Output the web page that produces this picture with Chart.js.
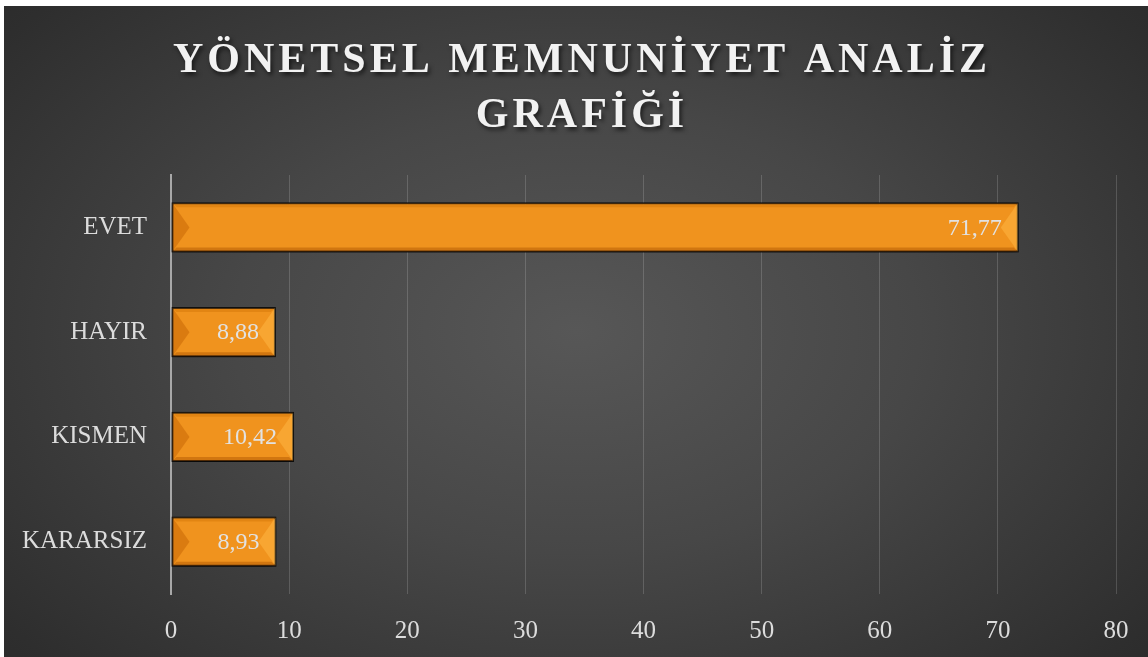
<!DOCTYPE html>
<html>
<head>
<meta charset="utf-8">
<script src="https://cdn.jsdelivr.net/npm/chart.js@4/dist/chart.umd.min.js"></script>
<style>
  html, body { margin: 0; padding: 0; background: #fff; }
  #wrap {
    position: absolute; left: 4px; top: 6px; width: 1144px; height: 651px;
    background: radial-gradient(ellipse 75% 85% at 50% 50%, #575757 0%, #474747 40%, #2e2e2e 85%, #282828 100%);
  }
</style>
</head>
<body>
<div id="wrap"><canvas id="chart" width="1144" height="651"></canvas></div>
<script>
// chart data
const titleLines = ['YÖNETSEL MEMNUNİYET ANALİZ', 'GRAFİĞİ'];
const categories = ['EVET', 'HAYIR', 'KISMEN', 'KARARSIZ'];
const percentValues = [71.77, 8.88, 10.42, 8.93];
const tickValues = [0, 10, 20, 30, 40, 50, 60, 70, 80];

const serif = '"Liberation Serif", "DejaVu Serif", serif';
const ctx = document.getElementById('chart').getContext('2d');

// title with letter spacing, drawn on the canvas
const spacedTitle = {
    id: 'spacedTitle',
    afterDraw(chart) {
        const c = chart.ctx;
        c.save();
        c.font = 'bold 42px ' + serif;
        c.letterSpacing = '4px';
        c.textAlign = 'center';
        c.textBaseline = 'middle';
        c.fillStyle = '#f2f2f2';
        c.shadowColor = 'rgba(0,0,0,0.6)';
        c.shadowOffsetX = 2;
        c.shadowOffsetY = 3;
        c.shadowBlur = 4;
        titleLines.forEach((line, i) => {
            c.fillText(line, 578, 55 + i * 55);
        });
        c.restore();
    }
};

function tri(c, pts, color) {
    c.fillStyle = color;
    c.beginPath();
    c.moveTo(pts[0][0], pts[0][1]);
    for (let k = 1; k < pts.length; k++) c.lineTo(pts[k][0], pts[k][1]);
    c.closePath();
    c.fill();
}

// shadow under the bars, bevel and value labels
const barDecor = {
    id: 'barDecor',
    beforeDatasetsDraw(chart) {
        const c = chart.ctx;
        c.save();
        c.shadowColor = 'rgba(0,0,0,0.55)';
        c.shadowBlur = 10;
        c.shadowOffsetY = 6;
    },
    afterDatasetsDraw(chart) {
        const c = chart.ctx;
        c.restore();
        const meta = chart.getDatasetMeta(0);
        meta.data.forEach((bar, i) => {
            const p = bar.getProps(['x', 'y', 'base', 'height'], true);
            const l = p.base + 1, r = p.x - 1;
            const t = p.y - p.height / 2 + 1, b = p.y + p.height / 2 - 1;
            const m = p.y, e = 4, w = 17;
            c.save();
            tri(c, [[l, t], [r, t], [r - e, t + e], [l + e, t + e]], 'rgba(200,110,0,0.35)');
            tri(c, [[l, b], [r, b], [r - e, b - e], [l + e, b - e]], 'rgba(170,85,0,0.45)');
            tri(c, [[l, t], [l + w, m], [l, b]], 'rgba(190,95,0,0.45)');
            tri(c, [[r, t], [r - w, m], [r, b]], 'rgba(255,185,70,0.5)');
            c.restore();

            c.save();
            c.font = '24px ' + serif;
            c.fillStyle = '#e2e2e2';
            c.textAlign = 'right';
            c.textBaseline = 'middle';
            c.fillText(percentValues[i].toFixed(2).replace('.', ','), p.x - 17, p.y + 1);
            c.restore();
        });
    }
};

new Chart(ctx, {
    type: 'bar',
    data: {
        labels: categories,
        datasets: [{
            data: percentValues,
            backgroundColor: '#f0931e',
            borderColor: '#111',
            borderWidth: 2,
            borderSkipped: false,
            barPercentage: 0.96,
            categoryPercentage: 0.5
        }]
    },
    options: {
        indexAxis: 'y',
        responsive: false,
        animation: false,
        layout: { padding: { top: 169, right: 32, left: 0, bottom: 0 } },
        plugins: {
            legend: { display: false },
            title: { display: false },
            tooltip: { enabled: false }
        },
        scales: {
            x: {
                min: 0,
                max: 80,
                afterBuildTicks: s => { s.ticks = tickValues.map(v => ({ value: v })); },
                afterFit: s => { s.height = 63; },
                // invisible tick marks push the labels down without widening the side padding
                grid: { color: 'rgba(255,255,255,0.16)', lineWidth: 1, drawTicks: true, tickLength: 22, tickColor: 'rgba(0,0,0,0)' },
                border: { display: false },
                ticks: { color: '#dcdcdc', padding: 0, font: { family: serif, size: 25 } }
            },
            y: {
                afterFit: s => { s.width = 167; },
                grid: { display: false, drawTicks: false },
                border: { display: true, color: '#a8a8a8', width: 2 },
                ticks: { color: '#dcdcdc', padding: 24, font: { family: serif, size: 25 } }
            }
        }
    },
    plugins: [barDecor, spacedTitle]
});
</script>
</body>
</html>
